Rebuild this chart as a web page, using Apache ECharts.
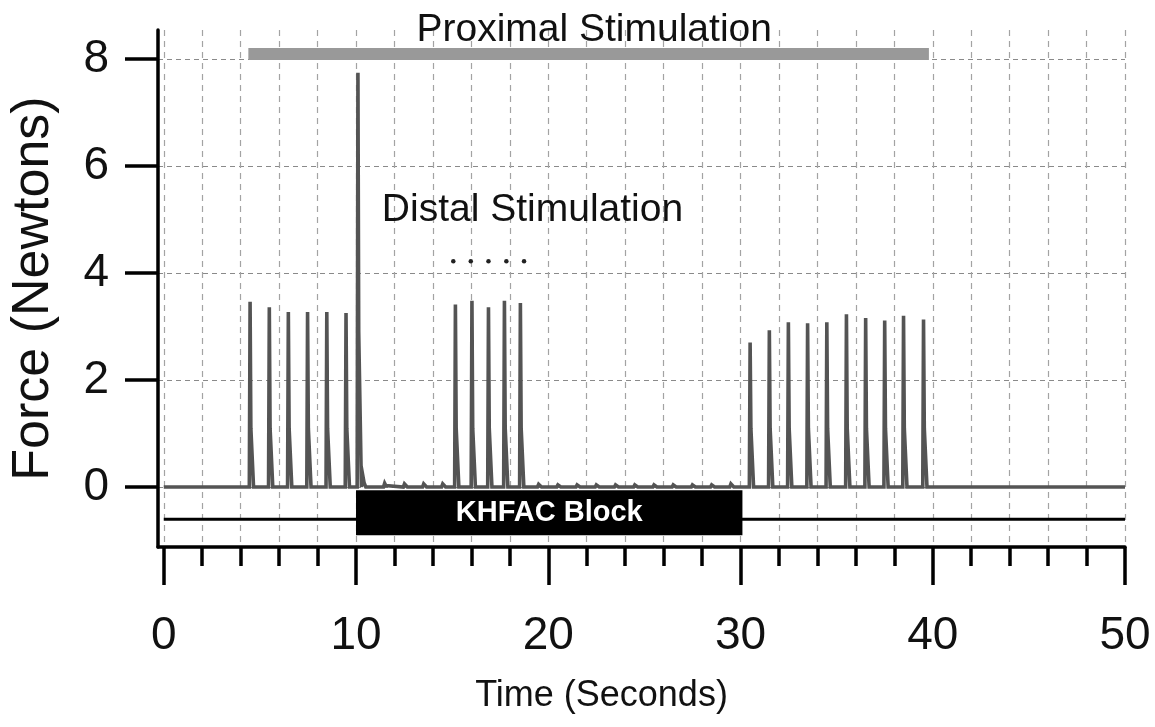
<!DOCTYPE html>
<html>
<head>
<meta charset="utf-8">
<script src="https://cdn.jsdelivr.net/npm/echarts@6/dist/echarts.min.js"></script>
<style>
html,body{margin:0;padding:0;background:#fff;}
#chart{width:1155px;height:727px;}
</style>
</head>
<body>
<div id="chart"></div>
<script>
// ---- Data ----
const xTickLabels = [0, 10, 20, 30, 40, 50];
const xMinorTicks = [0, 2, 4, 6, 8, 10, 12, 14, 16, 18, 20, 22, 24, 26, 28, 30, 32, 34, 36, 38, 40, 42, 44, 46, 48, 50];
const yTickLabels = [0, 2, 4, 6, 8];

// proximal twitches before block
const proxTimes1 = [4.49, 5.49, 6.48, 7.48, 8.48, 9.48];
const proxPeaks1 = [3.46, 3.36, 3.27, 3.27, 3.27, 3.25];
// onset response at block start
const onsetTimes = [10.10];
const onsetPeaks = [7.74];
const onsetShoulders = [2.9];
// distal twitches during block
const distalTimes = [15.17, 16.03, 16.89, 17.72, 18.55];
const distalPeaks = [3.41, 3.48, 3.36, 3.48, 3.44];
// proximal twitches after block
const proxTimes2 = [30.50, 31.50, 32.49, 33.49, 34.49, 35.51, 36.51, 37.50, 38.48, 39.52];
const proxPeaks2 = [2.70, 2.93, 3.08, 3.06, 3.08, 3.23, 3.16, 3.11, 3.20, 3.13];
const twitchShoulder = 1.1;
// small residual bumps on the baseline during block
const bumpTimes = [10.36, 11.49, 12.52, 13.52, 14.51, 19.5, 20.5, 21.5, 22.5, 23.5, 24.5, 25.5, 26.5, 27.5, 28.5, 29.5];
const bumpValues = [0.2, 0.07, 0.06, 0.06, 0.06, 0.05, 0.04, 0.04, 0.04, 0.04, 0.04, 0.04, 0.04, 0.04, 0.04, 0.06];

const traceStart = 0, traceEnd = 50;
// distal stimulation markers (dots)
const distalDotTimes = [15.06, 15.97, 16.89, 17.82, 18.74];
const distalDotLevel = 4.22;
// proximal stimulation bar
const proxBarStart = 4.4, proxBarEnd = 39.8, proxBarLevel = 8.09;
// KHFAC block
const blockStart = 10.0, blockEnd = 30.1, blockTop = -0.06, blockBottom = -0.9;
const blockLineLevel = -0.6;
// annotation anchors
const proxLabel = ['Proximal Stimulation', 22.39, 8.54];
const distalLabel = ['Distal Stimulation', 19.18, 5.18];

// ---- Build trace ----
const events = [];
proxTimes1.forEach((t, i) => events.push({t, p: proxPeaks1[i], s: twitchShoulder}));
onsetTimes.forEach((t, i) => events.push({t, p: onsetPeaks[i], s: onsetShoulders[i]}));
distalTimes.forEach((t, i) => events.push({t, p: distalPeaks[i], s: twitchShoulder}));
proxTimes2.forEach((t, i) => events.push({t, p: proxPeaks2[i], s: twitchShoulder}));
bumpTimes.forEach((t, i) => events.push({t, p: bumpValues[i], s: bumpValues[i] * 0.4, bump: true}));
events.sort((a, b) => a.t - b.t);
const trace = [[traceStart, 0]];
events.forEach(e => {
  const w = e.bump ? 0.06 : 0.04;
  trace.push([e.t - w, 0], [e.t, e.p], [e.t + w, e.s], [e.t + (e.bump ? 0.15 : 0.18), 0]);
});
trace.push([traceEnd, 0]);

const REG = "'Liberation Sans', Arial, Helvetica, sans-serif";
const hGrid = {show: true, lineStyle: {color: '#8a8a8a', width: 1.2, type: [5, 4]}};
const vGrid = {show: true, lineStyle: {color: '#a3a3a3', width: 1.2, type: [6, 5]}};

const chart = echarts.init(document.getElementById('chart'), null, {renderer: 'canvas'});
chart.setOption({
  animation: false,
  backgroundColor: '#ffffff',
  grid: {left: 154, right: 30, top: 30, bottom: 180, containLabel: false},
  xAxis: [{
    type: 'value', min: -0.3, max: 50, position: 'bottom',
    name: 'Time (Seconds)', nameLocation: 'middle', nameGap: 131,
    nameTextStyle: {fontFamily: REG, fontSize: 36, color: '#111', padding: [0, 80, 0, 0]},
    axisLine: {show: true, onZero: false, lineStyle: {color: '#000', width: 3.5}},
    axisTick: {show: true, customValues: xTickLabels, length: 38, lineStyle: {color: '#000', width: 3.5}},
    axisLabel: {show: true, customValues: xTickLabels, margin: 66, fontFamily: REG, fontSize: 46, color: '#111'},
    splitLine: {show: false}
  }, {
    type: 'value', min: -0.3, max: 50, position: 'bottom',
    axisLine: {show: false, onZero: false},
    axisTick: {show: true, customValues: xMinorTicks, length: 19, lineStyle: {color: '#000', width: 3.5}},
    axisLabel: {show: false},
    splitLine: vGrid
  }],
  yAxis: [{
    type: 'value', min: -1.12, max: 8.54, position: 'left',
    name: 'Force (Newtons)', nameLocation: 'middle', nameGap: 98, nameRotate: 90,
    nameTextStyle: {fontFamily: REG, fontSize: 52, color: '#111'},
    axisLine: {show: true, onZero: false, lineStyle: {color: '#000', width: 3.5}},
    axisTick: {show: true, customValues: yTickLabels, length: 33, lineStyle: {color: '#000', width: 3.5}},
    axisLabel: {show: true, customValues: yTickLabels, margin: 49, fontFamily: REG, fontSize: 46, color: '#111'},
    splitLine: hGrid
  }],
  series: [
    {
      type: 'line', name: 'blockLine', xAxisIndex: 0, yAxisIndex: 0,
      data: [[traceStart, blockLineLevel], [traceEnd, blockLineLevel]],
      showSymbol: false, symbol: 'none', silent: true,
      lineStyle: {color: '#000', width: 3},
      z: 2
    },
    {
      type: 'line', name: 'proxBar', xAxisIndex: 0, yAxisIndex: 0,
      data: [[proxBarStart, proxBarLevel], [proxBarEnd, proxBarLevel]],
      showSymbol: false, symbol: 'none', silent: true,
      lineStyle: {color: '#999999', width: 12, cap: 'butt'},
      markArea: {
        silent: true, z: 4,
        itemStyle: {color: '#000', opacity: 1},
        label: {show: true, position: 'inside', align: 'center', verticalAlign: 'middle', color: '#fff', fontFamily: REG, fontWeight: 'bold', fontSize: 29},
        data: [[{name: 'KHFAC Block', coord: [blockStart, blockTop]}, {coord: [blockEnd, blockBottom]}]]
      },
      z: 3
    },
    {
      type: 'line', name: 'Force', xAxisIndex: 0, yAxisIndex: 0,
      data: trace, showSymbol: false, symbol: 'none', silent: true,
      lineStyle: {color: '#545454', width: 3.6, join: 'miter'},
      z: 5
    },
    {
      type: 'scatter', name: 'distalDots', xAxisIndex: 0, yAxisIndex: 0,
      data: distalDotTimes.map(t => [t, distalDotLevel]),
      symbol: 'circle', symbolSize: 4.5, itemStyle: {color: '#222', opacity: 1}, silent: true, z: 6
    },
    {
      type: 'scatter', name: 'labels', xAxisIndex: 0, yAxisIndex: 0,
      data: [
        {value: [proxLabel[1], proxLabel[2]], name: proxLabel[0]},
        {value: [distalLabel[1], distalLabel[2]], name: distalLabel[0]}
      ],
      symbolSize: 1, itemStyle: {color: 'rgba(0,0,0,0)', opacity: 1}, silent: true, z: 7,
      label: {show: true, position: 'inside', formatter: p => p.name, fontFamily: REG, fontSize: 39, color: '#111'}
    }
  ]
});
</script>
</body>
</html>
